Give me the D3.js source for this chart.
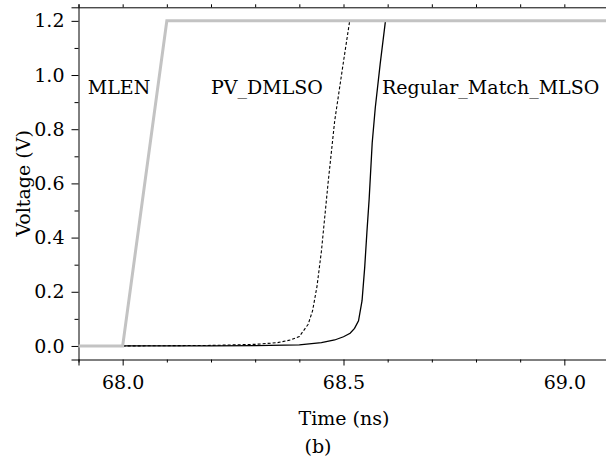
<!DOCTYPE html>
<html><head><meta charset="utf-8">
<script src="https://cdn.jsdelivr.net/npm/d3@7"></script>
<style>
html,body{margin:0;padding:0;background:#fff;}
svg{display:block;}
svg text{font-family:"DejaVu Serif","Liberation Serif",serif !important;}
</style></head>
<body>
<svg id="chart" width="606" height="458"></svg>
<script>
// ---- data ----
const mlenTime = [67.9, 68.0, 68.1, 69.1];
const mlenVolt = [0.0, 0.0, 1.2, 1.2];

const pvTime = [68.0, 68.1, 68.2, 68.3, 68.35, 68.38, 68.40, 68.42, 68.43, 68.44, 68.45, 68.465, 68.48, 68.50, 68.514, 69.1];
const pvVolt = [0.0, 0.001, 0.002, 0.006, 0.012, 0.022, 0.035, 0.08, 0.13, 0.22, 0.35, 0.60, 0.83, 1.05, 1.2, 1.2];

const regTime = [68.0, 68.2, 68.3, 68.4, 68.45, 68.48, 68.50, 68.515, 68.525, 68.534, 68.542, 68.548, 68.553, 68.558, 68.565, 68.572, 68.583, 68.595, 69.1];
const regVolt = [0.0, 0.0, 0.001, 0.004, 0.012, 0.022, 0.034, 0.047, 0.065, 0.093, 0.167, 0.29, 0.42, 0.54, 0.75, 0.88, 1.04, 1.2, 1.2];

const xMajorTicks = [68.0, 68.5, 69.0];
const xMinorTicks = [67.9, 68.1, 68.2, 68.3, 68.4, 68.6, 68.7, 68.8, 68.9, 69.1];
const yMajorTicks = [0.0, 0.2, 0.4, 0.6, 0.8, 1.0, 1.2];
const yMinorTicks = [0.1, 0.3, 0.5, 0.7, 0.9, 1.1];

const labels = [
  {text: "MLEN", t: 67.921},
  {text: "PV_DMLSO", t: 68.2, v: 0.93},
  {text: "Regular_Match_MLSO", t: 68.587}
];
const labelVolt = 0.93;

// ---- layout ----
const svg = d3.select("#chart");
const x = d3.scaleLinear().domain([67.9, 69.1]).range([78.5, 608.5]);
const y = d3.scaleLinear().domain([-0.05, 1.25]).range([359.5, 7.3]);
const fmt = d3.format(".1f");

// top border with small ticks
const topAxis = d3.axisTop(x).tickValues(xMajorTicks.concat(xMinorTicks)).tickSize(3).tickFormat("");
svg.append("g").attr("transform", `translate(0,${y(1.25)})`).call(topAxis);

// bottom axis
const xAxisMajor = d3.axisBottom(x).tickValues(xMajorTicks).tickSize(6).tickPadding(10).tickFormat(fmt);
const gx = svg.append("g").attr("transform", `translate(0,${y(-0.05)})`).call(xAxisMajor);
gx.selectAll("text").attr("font-size", 19).attr("fill", "#000");
const xAxisMinor = d3.axisBottom(x).tickValues(xMinorTicks).tickSize(3).tickFormat("");
svg.append("g").attr("transform", `translate(0,${y(-0.05)})`).call(xAxisMinor).select(".domain").remove();

// left axis
const yAxisMajor = d3.axisLeft(y).tickValues(yMajorTicks).tickSize(7).tickPadding(7).tickFormat(fmt);
const gy = svg.append("g").attr("transform", `translate(${x(67.9)},0)`).call(yAxisMajor);
gy.selectAll("text").attr("font-size", 19).attr("fill", "#000");
const yAxisMinor = d3.axisLeft(y).tickValues(yMinorTicks).tickSize(4).tickFormat("");
svg.append("g").attr("transform", `translate(${x(67.9)},0)`).call(yAxisMinor).select(".domain").remove();

// lines
const line = d3.line().x(d => x(d[0])).y(d => y(d[1]));
const zip = (a, b) => a.map((t, i) => [t, b[i]]);

svg.append("path").datum(zip(regTime, regVolt)).attr("d", line)
  .attr("fill", "none").attr("stroke", "#000").attr("stroke-width", 1.3);
svg.append("path").datum(zip(pvTime, pvVolt)).attr("d", line)
  .attr("fill", "none").attr("stroke", "#000").attr("stroke-width", 1.1).attr("stroke-dasharray", "3,2");
svg.append("path").datum(zip(mlenTime, mlenVolt)).attr("d", line)
  .attr("fill", "none").attr("stroke", "#c3c3c3").attr("stroke-width", 3);

// annotations
svg.selectAll("text.ann").data(labels).enter().append("text")
  .attr("class", "ann")
  .attr("x", d => x(d.t)).attr("y", y(labelVolt))
  .attr("font-size", 19).attr("fill", "#000").text(d => d.text);

// axis titles
svg.append("text").attr("x", 344).attr("y", 425).attr("text-anchor", "middle")
  .attr("font-size", 19).text("Time (ns)");
svg.append("text").attr("transform", `translate(30,${y(0.6)}) rotate(-90)`).attr("text-anchor", "middle")
  .attr("font-size", 19).text("Voltage (V)");
svg.append("text").attr("x", 318).attr("y", 453).attr("text-anchor", "middle")
  .attr("font-size", 19).text("(b)");
</script>
</body></html>
